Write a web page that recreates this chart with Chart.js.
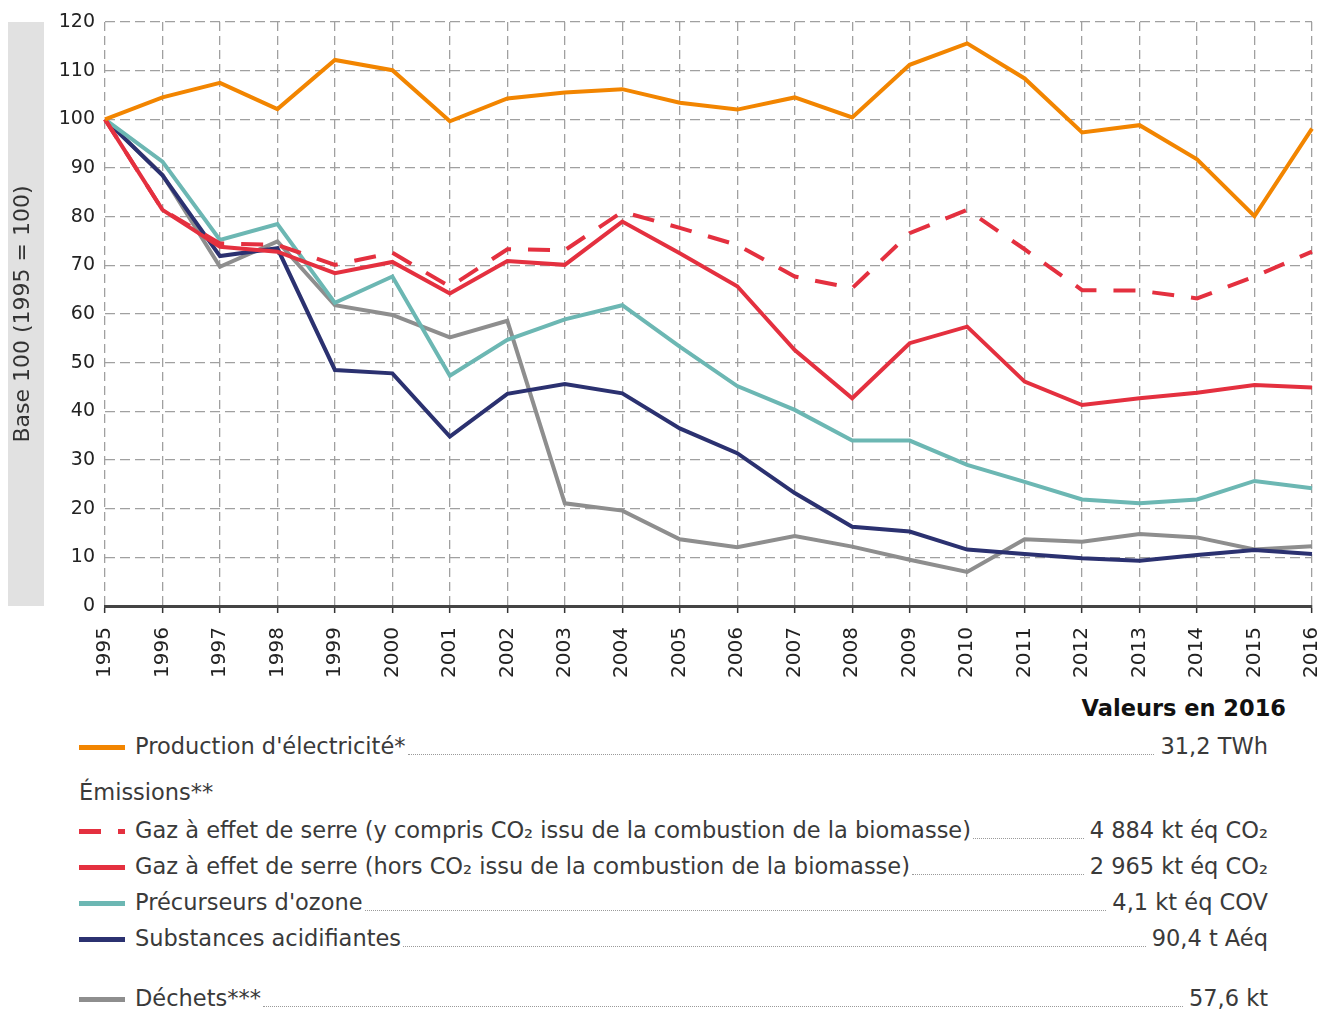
<!DOCTYPE html>
<html lang="fr">
<head>
<meta charset="utf-8">
<script src="https://cdn.jsdelivr.net/npm/chart.js@4.4.1/dist/chart.umd.min.js"></script>
<style>
  body { margin: 0; background: #fff; font-family: "DejaVu Sans", sans-serif; }
  #wrap { position: relative; width: 1322px; height: 1013px; overflow: hidden; }
  #box { position: absolute; left: 0; top: 0; width: 1322px; height: 690px; }
  .head { position: absolute; right: 36px; top: 695px; font-size: 22.5px; font-weight: bold; color: #111; }
  .row { position: absolute; left: 79px; width: 1189px; height: 28px; display: flex; align-items: flex-end; font-size: 22.5px; color: #3a3a3a; }
  .row svg { flex: none; margin-right: 10px; margin-bottom: 10px; }
  .row .lbl { flex: none; white-space: nowrap; line-height: 28px; }
  .row .dots { flex: 1; border-bottom: 1.5px dotted #9a9a9a; margin: 0 6px 5px 2px; }
  .row .val { flex: none; white-space: nowrap; line-height: 28px; }
  .grp { position: absolute; left: 79px; top: 779px; font-size: 22.5px; color: #3a3a3a; }
</style>
</head>
<body>
<div id="wrap">
  <div id="box"><canvas id="myChart" width="1322" height="690"></canvas></div>
  <div class="head">Valeurs en 2016</div>
  <div id="legend"></div>
</div>
<script>
// Data (base 100 = 1995)
const years = ["1995", "1996", "1997", "1998", "1999", "2000", "2001", "2002", "2003", "2004", "2005",
               "2006", "2007", "2008", "2009", "2010", "2011", "2012", "2013", "2014", "2015", "2016"];
const electricite = [100, 104.5, 107.5, 102.1, 112.2, 110.1, 99.6, 104.3, 105.5, 106.2, 103.4,
                     102.0, 104.5, 100.4, 111.2, 115.6, 108.4, 97.3, 98.8, 91.8, 80.1, 98.1];
const ges_avec_biomasse = [100, 81.4, 74.5, 74.2, 70.1, 72.6, 65.6, 73.3, 73.1, 81.0, 77.7,
                           74.2, 67.7, 65.3, 76.6, 81.4, 73.3, 64.9, 64.8, 63.2, 67.7, 72.8];
const ges_hors_biomasse = [100, 81.4, 73.8, 72.8, 68.4, 70.7, 64.2, 70.9, 70.1, 79.0, 72.5,
                           65.7, 52.6, 42.7, 54.0, 57.4, 46.1, 41.3, 42.7, 43.8, 45.4, 44.9];
const precurseurs_ozone = [100, 91.3, 75.2, 78.5, 62.3, 67.7, 47.3, 54.7, 58.9, 61.8, 53.3,
                           45.2, 40.3, 34.0, 34.0, 29.0, 25.5, 21.9, 21.1, 21.9, 25.7, 24.2];
const acidifiantes = [100, 88.5, 71.9, 73.5, 48.5, 47.8, 34.8, 43.6, 45.6, 43.7, 36.5,
                      31.4, 23.2, 16.3, 15.3, 11.6, 10.7, 9.8, 9.3, 10.5, 11.5, 10.7];
const dechets = [100, 88.6, 69.7, 74.9, 61.8, 59.8, 55.2, 58.6, 21.1, 19.6, 13.7,
                 12.1, 14.4, 12.2, 9.5, 7.0, 13.7, 13.2, 14.8, 14.1, 11.6, 12.3];

const series_labels = ["Production d'électricité*",
  "Gaz à effet de serre (y compris CO₂ issu de la combustion de la biomasse)",
  "Gaz à effet de serre (hors CO₂ issu de la combustion de la biomasse)",
  "Précurseurs d'ozone", "Substances acidifiantes", "Déchets***"];
const values_2016 = ["31,2 TWh", "4 884 kt éq CO₂", "2 965 kt éq CO₂", "4,1 kt éq COV", "90,4 t Aéq", "57,6 kt"];

const colors = ["#f28500", "#e4303f", "#e4303f", "#6cb7b3", "#2b3170", "#8e8e8e"];
const dashes = [[], [22, 17], [], [], [], []];
const series = [electricite, ges_avec_biomasse, ges_hors_biomasse, precurseurs_ozone, acidifiantes, dechets];
const legend_top = [732, 816, 852, 888, 924, 984];

// gray band behind the y axis title
const titleBand = {
  id: 'titleBand',
  beforeDraw(chart) {
    const a = chart.chartArea;
    const c = chart.ctx;
    c.save();
    c.fillStyle = '#e1e1e1';
    c.fillRect(8, a.top, 36, a.bottom - a.top);
    c.restore();
  }
};

var ctx = document.getElementById('myChart');
var datasets = [];
for (let i = 0; i < series.length; i++) {
  datasets.push({
    label: series_labels[i],
    data: series[i],
    borderColor: colors[i],
    borderWidth: 4,
    borderDash: dashes[i],
    pointRadius: 0,
    tension: 0,
    fill: false
  });
}

var a = new Chart(ctx, {
  type: 'line',
  data: { labels: years, datasets: datasets },
  plugins: [titleBand],
  options: {
    responsive: false,
    animation: false,
    devicePixelRatio: 1,
    layout: { padding: { top: 22, right: 10, left: 0, bottom: 0 } },
    plugins: { legend: { display: false }, tooltip: { enabled: false } },
    scales: {
      x: {
        afterFit(scale) {
          scale.height = 84;
          scale.paddingLeft = 0;
          scale.paddingRight = 0;
        },
        grid: {
          color: '#a0a0a0', lineWidth: 1.3,
          tickLength: 7, tickColor: '#333', tickWidth: 1.5, tickBorderDash: []
        },
        border: { display: true, color: '#444', width: 3, dash: [9, 5] },
        ticks: {
          minRotation: 90, maxRotation: 90, padding: 14, autoSkip: false,
          color: '#222', font: { family: 'DejaVu Sans', size: 20 }
        }
      },
      y: {
        min: 0, max: 120,
        afterFit(scale) { scale.width = 105; },
        grid: { color: '#a0a0a0', lineWidth: 1.3, drawTicks: false },
        border: { display: false, dash: [10, 5] },
        ticks: {
          stepSize: 10, padding: 10,
          color: '#222', font: { family: 'DejaVu Sans', size: 19 }
        },
        title: {
          display: true, text: 'Base 100 (1995 = 100)',
          color: '#333', font: { family: 'DejaVu Sans', size: 22 },
          padding: { top: 10, bottom: 0 }
        }
      }
    }
  }
});

// legend with dotted leaders
var legend = document.getElementById('legend');
for (let i = 0; i < series.length; i++) {
  var row = document.createElement('div');
  row.className = 'row';
  row.style.top = legend_top[i] + 'px';
  var dash = dashes[i].length ? ' stroke-dasharray="' + dashes[i].join(',') + '"' : '';
  row.innerHTML = '<svg width="46" height="5"><line x1="0" y1="2.5" x2="46" y2="2.5" stroke="' + colors[i] +
    '" stroke-width="5"' + dash + '/></svg>' +
    '<span class="lbl"></span><span class="dots"></span><span class="val"></span>';
  row.querySelector('.lbl').textContent = series_labels[i];
  row.querySelector('.val').textContent = values_2016[i];
  legend.appendChild(row);
}
var grp = document.createElement('div');
grp.className = 'grp';
grp.textContent = 'Émissions**';
legend.appendChild(grp);
</script>
</body>
</html>
